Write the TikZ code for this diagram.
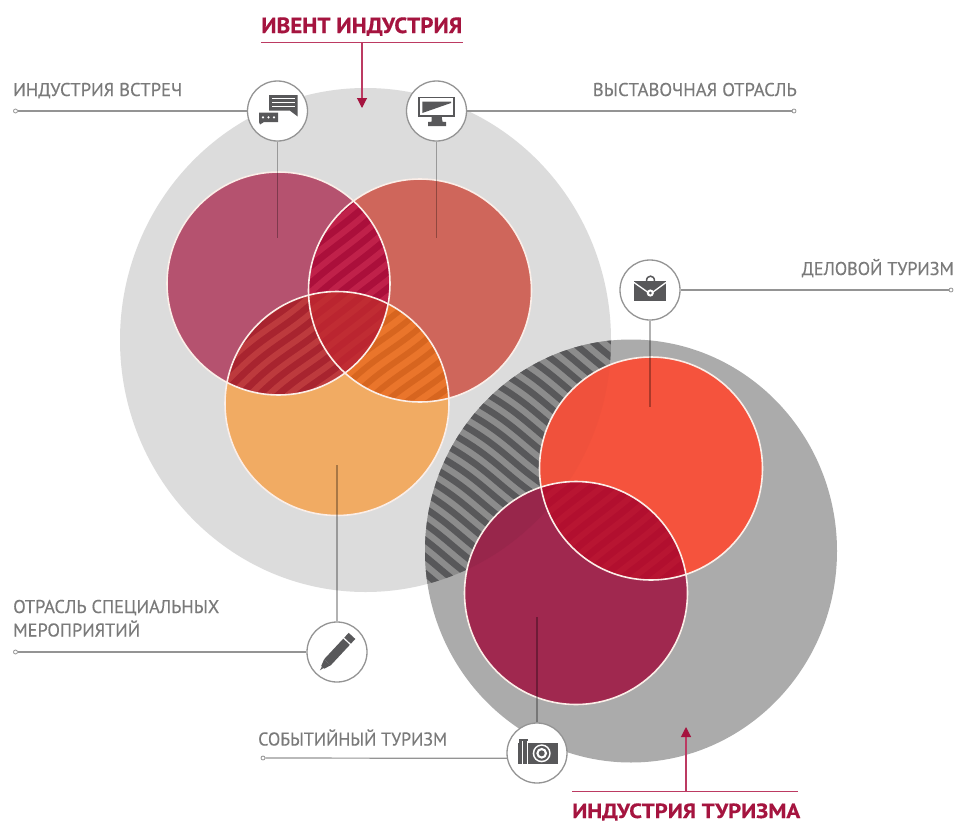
\documentclass[tikz,border=0pt]{standalone}
\usepackage{fontspec}
\usepackage{graphicx}
\setmainfont{PT Sans}
\newfontfamily\labfont[FakeBold=0.35]{PT Sans}
\newfontfamily\ttlfont[FakeBold=0.5]{PT Sans Bold}
\usetikzlibrary{arrows.meta}
\definecolor{bigA}{HTML}{DCDCDC}
\definecolor{bigB}{HTML}{ABABAB}
\definecolor{cMag}{HTML}{B5526F}
\definecolor{cCor}{HTML}{CF665B}
\definecolor{cOra}{HTML}{F1AB63}
\definecolor{cRed}{HTML}{F5533D}
\definecolor{cCri}{HTML}{A0284F}
\definecolor{wine}{HTML}{A5143F}
\definecolor{wineLine}{HTML}{BC3A62}
\definecolor{labc}{HTML}{7A7A7A}
\definecolor{ico}{HTML}{58585A}
\definecolor{edge}{HTML}{FBEEE8}
\definecolor{rcBase}{HTML}{B20F2F}
\definecolor{rcStr}{HTML}{B81532}
\definecolor{mcBase}{HTML}{AB0F3B}
\definecolor{mcStr}{HTML}{C0214A}
\definecolor{moBase}{HTML}{A8242F}
\definecolor{moStr}{HTML}{BD3A3D}
\definecolor{coBase}{HTML}{EA752B}
\definecolor{coStr}{HTML}{D7651F}
\definecolor{triBase}{HTML}{BB2530}
\definecolor{triStr}{HTML}{C02C33}
\newcommand{\pathBigA}{(365.5,340) ellipse [x radius=245.5,y radius=252]}
\newcommand{\pathBigB}{(631,551) ellipse [x radius=206,y radius=211.5]}
\newcommand{\pathMag}{(278.5,283.5) circle [radius=111.5]}
\newcommand{\pathCor}{(420,290.5) circle [radius=111.5]}
\newcommand{\pathOra}{(337,403.5) circle [radius=112]}
\newcommand{\pathRed}{(651,468.5) circle [radius=111.5]}
\newcommand{\pathCri}{(576,593) circle [radius=111.5]}
% #1 centre, #2 angle, #3 colour, #4 width, #5 amplitude, #6 half extent (multiple of 13)
\newcommand{\stripes}[6]{%
  \begin{scope}[shift={#1},rotate=#2]
    \pgfmathtruncatemacro{\lo}{-13*#6}
    \pgfmathtruncatemacro{\nx}{-13*#6+13}
    \pgfmathtruncatemacro{\hi}{13*#6}
    \foreach \o in {\lo,\nx,...,\hi}{
      \draw[#3,line width=#4] plot[smooth,domain=-200:200,samples=41] (\x,{\o+#5*sin(\x*2.6)});
    }
  \end{scope}}
\newcommand{\lab}[2]{\resizebox{#1pt}{\height}{\fontsize{18.5pt}{20pt}\labfont #2}}
\newcommand{\ttl}[3]{\resizebox{#1pt}{\height}{\fontsize{#2pt}{24pt}\ttlfont #3}}
\tikzset{
  iconring/.style={circle,draw=black!42,line width=1.3pt,fill=white,minimum size=60pt,inner sep=0pt},
  enddot/.style={circle,draw=black!42,line width=0.8pt,fill=white,minimum size=4pt,inner sep=0pt},
  leader/.style={draw=black!42,line width=1.2pt},
  innerline/.style={draw=black,draw opacity=.3,line width=1.1pt},
  wineline/.style={draw=wineLine,line width=1.1pt},
  winearrow/.style={wineline,-{Triangle[length=10pt,width=10pt,color=wine]}},
  labeltext/.style={text=labc,inner sep=0pt},
  titletext/.style={text=wine,inner sep=0pt},
  ringedge/.style={draw=edge,line width=1.6pt},
  iconfill/.style={fill=ico,draw=none},
  iconcut/.style={draw=white,line width=1pt}
}
\begin{document}
\begin{tikzpicture}[x=1pt,y=-1pt]
\useasboundingbox (0,0) rectangle (956,822);
\fill[white] (0,0) rectangle (956,822);
% big circles
\fill[bigA] \pathBigA;
\fill[bigB] \pathBigB;
% hatched overlap of big circles
\begin{scope}
  \clip \pathBigA;
  \clip \pathBigB;
  \fill[black!45] (400,320) rectangle (640,620);
  \stripes{(520,450)}{-35}{ico}{6.5pt}{2}{14}
\end{scope}
% tourism circles
\fill[cRed] \pathRed;
\fill[cCri] \pathCri;
\begin{scope}
  \clip \pathBigA;
  \fill[cRed!98!black] \pathRed;
  \fill[cCri!95!black] \pathCri;
\end{scope}
\begin{scope}
  \clip \pathRed;
  \clip \pathCri;
  \fill[rcBase] (460,470) rectangle (700,600);
  \stripes{(610,530)}{40}{rcStr}{6pt}{1}{8}
\end{scope}
% event circles
\fill[cMag] \pathMag;
\fill[cCor] \pathCor;
\fill[cOra] \pathOra;
\begin{scope}
  \clip \pathMag;
  \clip \pathCor;
  \fill[mcBase] (300,170) rectangle (400,400);
  \stripes{(350,260)}{40}{mcStr}{6pt}{1}{8}
\end{scope}
\begin{scope}
  \clip \pathMag;
  \clip \pathOra;
  \fill[moBase] (220,280) rectangle (400,400);
  \stripes{(290,345)}{40}{moStr}{6pt}{2}{9}
\end{scope}
\begin{scope}
  \clip \pathCor;
  \clip \pathOra;
  \fill[coBase] (300,290) rectangle (460,410);
  \stripes{(390,350)}{40}{coStr}{6pt}{2}{9}
\end{scope}
\begin{scope}
  \clip \pathMag;
  \clip \pathCor;
  \clip \pathOra;
  \fill[triBase] (300,280) rectangle (400,400);
  \stripes{(350,330)}{40}{triStr}{6pt}{1}{7}
\end{scope}
% outlines
\draw[ringedge] \pathRed;
\draw[ringedge] \pathCri;
\draw[ringedge] \pathMag;
\draw[ringedge] \pathCor;
\draw[ringedge] \pathOra;
% inner ends of the leaders
\coordinate (e1) at (277.5,238);
\coordinate (e2) at (436.5,238);
\coordinate (e3) at (650,407);
\coordinate (e4) at (337,465);
\coordinate (e5) at (537,617);
% icon rings
\node[iconring] (ic1) at (277.5,111) {};
\node[iconring] (ic2) at (436.5,111) {};
\node[iconring] (ic3) at (650,290) {};
\node[iconring] (ic4) at (337,652) {};
\node[iconring] (ic5) at (537,753) {};
% end dots
\node[enddot] (d1) at (15.5,111) {};
\node[enddot] (d2) at (794,111) {};
\node[enddot] (d3) at (951,290) {};
\node[enddot] (d4) at (15.5,652) {};
\node[enddot] (d5) at (263,758) {};
% leaders
\draw[leader] (d1) -- (ic1);
\draw[leader] (d2) -- (ic2);
\draw[leader] (d3) -- (ic3);
\draw[leader] (d4) -- (ic4);
\draw[leader] (d5) -- (ic5.190);
\draw[innerline] (ic1) -- (e1);
\draw[innerline] (ic2) -- (e2);
\draw[innerline] (ic3) -- (e3);
\draw[innerline] (ic4) -- (e4);
\draw[innerline] (ic5) -- (e5);
% chat icon
\fill[iconfill] (269,95) -- (297.7,95) -- (297.7,116.5) -- (290,110.7) -- (269,110.7) -- cycle;
\draw[iconcut] (272,98.6) -- (294.5,98.6) (272,102.6) -- (294.5,102.6) (272,106.6) -- (294.5,106.6);
\fill[iconfill] (259,112.7) -- (278,112.7) -- (278,122) -- (264,122) -- (260,124.5) -- (259,122) -- cycle;
\fill[white] (263,117.4) circle (1.2) (268.5,117.4) circle (1.2) (274,117.4) circle (1.2);
% monitor icon
\draw[ico,line width=1.6pt] (419,97.5) rectangle (454,116);
\fill[iconfill] (422.3,101.5) -- (451,101.5) -- (451,103) -- (422.3,113) -- cycle;
\fill[iconfill] (431.7,116.7) -- (441.7,116.7) -- (442.5,121.7) -- (446,122) -- (446,126) -- (428,126) -- (428,122) -- (431.5,121.7) -- cycle;
% briefcase icon
\draw[ico,line width=1.5pt] (646.5,281) .. controls (646.5,274.5) and (654.5,274.5) .. (654.5,281);
\fill[iconfill] (634,280.7) rectangle (666,301.3);
\draw[white,line width=1.3pt] (634,282.5) -- (647.5,292) (666,282.5) -- (653,292);
\fill[white] (650.3,293) circle (3.6);
\fill[ico] (650.3,293) circle (1.5);
% pen icon
\begin{scope}[shift={(337,652)},rotate=47]
  \fill[iconfill] (-14,-4.5) rectangle (14,4.5);
  \fill[iconfill] (15.5,-4.5) rectangle (22,4.5);
  \fill[iconfill] (-14,-4.5) -- (-21,-2) -- (-21,2) -- (-14,4.5) -- cycle;
  \fill[iconfill] (-21,-1) -- (-25,0) -- (-21,1) -- cycle;
\end{scope}
% camera icon
\fill[iconfill] (519,739.3) rectangle (528.3,745);
\fill[iconfill] (517.7,742.7) rectangle (557.7,763.7);
\fill[white] (521.6,741) rectangle (523.2,763.7);
\fill[white] (526.6,741) rectangle (528.2,763.7);
\fill[white] (541.7,753.3) circle (9);
\fill[ico] (541.7,753.3) circle (7.4);
\fill[white] (541.7,753.3) circle (5.4);
\fill[ico] (541.7,753.3) circle (3);
% labels
\node[labeltext,anchor=base west] (t1) at (13,96) {\lab{169}{ИНДУСТРИЯ ВСТРЕЧ}};
\node[labeltext,anchor=base east] (t2) at (797,96) {\lab{204}{ВЫСТАВОЧНАЯ ОТРАСЛЬ}};
\node[labeltext,anchor=base east] (t3) at (954,275) {\lab{152}{ДЕЛОВОЙ ТУРИЗМ}};
\node[labeltext,anchor=base west] (t4a) at (13,613) {\lab{206}{ОТРАСЛЬ СПЕЦИАЛЬНЫХ}};
\node[labeltext,anchor=base west] (t4b) at (13,636.5) {\lab{127}{МЕРОПРИЯТИЙ}};
\node[labeltext,anchor=base west] (t5) at (258,745.5) {\lab{189}{СОБЫТИЙНЫЙ ТУРИЗМ}};
% titles
\node[titletext,anchor=base west] (h1) at (261,33) {\ttl{201}{22}{ИВЕНТ ИНДУСТРИЯ}};
\node[titletext,anchor=base west] (h2) at (572,818) {\ttl{228}{20.5}{ИНДУСТРИЯ ТУРИЗМА}};
\coordinate (r1a) at (261,42.5);
\coordinate (r1b) at (463,42.5);
\coordinate (r2a) at (572,791.7);
\coordinate (r2b) at (798,791.7);
\coordinate (a1s) at (362,42.5);
\coordinate (a1e) at (362,108);
\coordinate (a2s) at (686,791.7);
\coordinate (a2e) at (686,727);
\draw[wineline] (r1a) -- (r1b);
\draw[wineline] (r2a) -- (r2b);
\draw[winearrow] (a1s) -- (a1e);
\draw[winearrow] (a2s) -- (a2e);
\end{tikzpicture}
\end{document}
